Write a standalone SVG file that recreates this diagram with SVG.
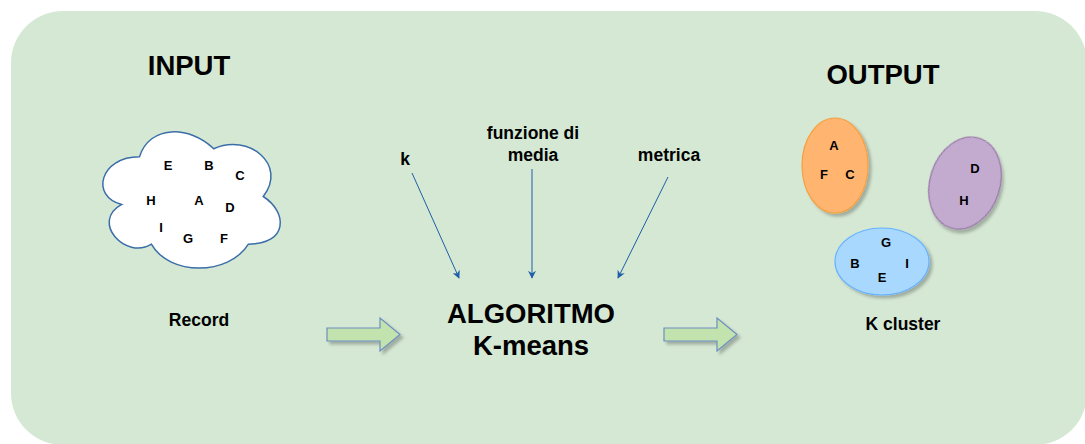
<svg xmlns="http://www.w3.org/2000/svg" width="1085" height="444" viewBox="0 0 1085 444">
  <defs>
    <filter id="shadow" x="-20%" y="-20%" width="140%" height="140%">
      <feDropShadow dx="3" dy="3" stdDeviation="1.5" flood-color="#000000" flood-opacity="0.25"/>
    </filter>
    <marker id="arrow" viewBox="0 0 10 10" refX="9" refY="5" markerWidth="8" markerHeight="8" markerUnits="userSpaceOnUse" orient="auto">
      <path d="M0,0 L10,5 L0,10 L3,5 Z" fill="#1f5ea8"/>
    </marker>
    <path id="block-arrow" d="M0,10 L53,10 L53,0 L73,16.5 L53,33 L53,23 L0,23 Z"/>
  </defs>
  <style>
    text { font-family: "Liberation Sans", Arial, sans-serif; font-weight: bold; fill: #000000; text-anchor: middle; }
    .title { font-size: 27.5px; }
    .caption { font-size: 17.5px; }
    .param { font-size: 17.5px; }
    .item { font-size: 13px; }
    .link { stroke: #1f5ea8; stroke-width: 1; fill: none; marker-end: url(#arrow); }
    .flow { fill: #c3e3ae; stroke: #6c8ebf; stroke-width: 1.2; filter: url(#shadow); }
  </style>

  <!-- background panel -->
  <rect x="11" y="11" width="1076" height="434" rx="52" ry="52" fill="#d5e8d4"/>

  <g id="input-title"><text class="title" x="189" y="75">INPUT</text></g>
  <g id="output-title"><text class="title" x="883" y="84">OUTPUT</text></g>

  <!-- cloud of records -->
  <g id="records">
    <path transform="translate(90,117) scale(198,159)" vector-effect="non-scaling-stroke"
      d="M0.25,0.25 C0.05,0.25 0,0.5 0.16,0.55 C0,0.66 0.18,0.9 0.31,0.8 C0.4,1 0.7,1 0.8,0.8 C1,0.8 1,0.6 0.875,0.5 C1,0.3 0.8,0.1 0.625,0.2 C0.5,0.05 0.3,0.05 0.25,0.25 Z"
      fill="#ffffff" stroke="#3b6ea8" stroke-width="1.5" filter="url(#shadow)"/>
    <text class="item" x="168" y="170">E</text>
    <text class="item" x="209" y="170">B</text>
    <text class="item" x="240" y="180">C</text>
    <text class="item" x="151" y="205">H</text>
    <text class="item" x="199" y="205">A</text>
    <text class="item" x="230" y="212">D</text>
    <text class="item" x="161" y="232">I</text>
    <text class="item" x="188" y="243">G</text>
    <text class="item" x="224" y="243">F</text>
  </g>
  <g id="record-label"><text class="caption" x="199" y="326">Record</text></g>

  <!-- parameters -->
  <g id="param-k"><text class="param" x="405" y="165">k</text></g>
  <g id="param-mean">
    <text class="param" x="533" y="139">funzione di</text>
    <text class="param" x="533" y="161">media</text>
  </g>
  <g id="param-metric"><text class="param" x="669" y="161">metrica</text></g>

  <!-- algorithm -->
  <g id="algorithm">
    <text class="title" x="531" y="323">ALGORITMO</text>
    <text class="title" x="531" y="355">K-means</text>
  </g>

  <!-- connectors -->
  <g id="connectors">
    <line class="link" x1="412" y1="173" x2="459" y2="278"/>
    <line class="link" x1="532" y1="169" x2="532" y2="278"/>
    <line class="link" x1="668" y1="177" x2="618" y2="278"/>
    <use href="#block-arrow" class="flow" x="327" y="318"/>
    <use href="#block-arrow" class="flow" x="664" y="318"/>
  </g>

  <!-- clusters -->
  <g id="cluster-orange">
    <ellipse cx="835" cy="165.5" rx="33" ry="47.5" fill="#ffb570" stroke="#f5a040" stroke-width="1.2" filter="url(#shadow)"/>
    <text class="item" x="834" y="150">A</text>
    <text class="item" x="824" y="179">F</text>
    <text class="item" x="850" y="179">C</text>
  </g>
  <g id="cluster-purple">
    <ellipse cx="965" cy="183" rx="35" ry="47" transform="rotate(18 965 183)" fill="#c3abd0" stroke="#9673a6" stroke-width="1.2" filter="url(#shadow)"/>
    <text class="item" x="975" y="173">D</text>
    <text class="item" x="964" y="205">H</text>
  </g>
  <g id="cluster-blue">
    <ellipse cx="882" cy="261.5" rx="47" ry="33.5" fill="#a9d8ff" stroke="#66b2ff" stroke-width="1.2" filter="url(#shadow)"/>
    <text class="item" x="886" y="247">G</text>
    <text class="item" x="855" y="268">B</text>
    <text class="item" x="907" y="268">I</text>
    <text class="item" x="882" y="282">E</text>
  </g>
  <g id="cluster-label"><text class="caption" x="903" y="330">K cluster</text></g>
</svg>
